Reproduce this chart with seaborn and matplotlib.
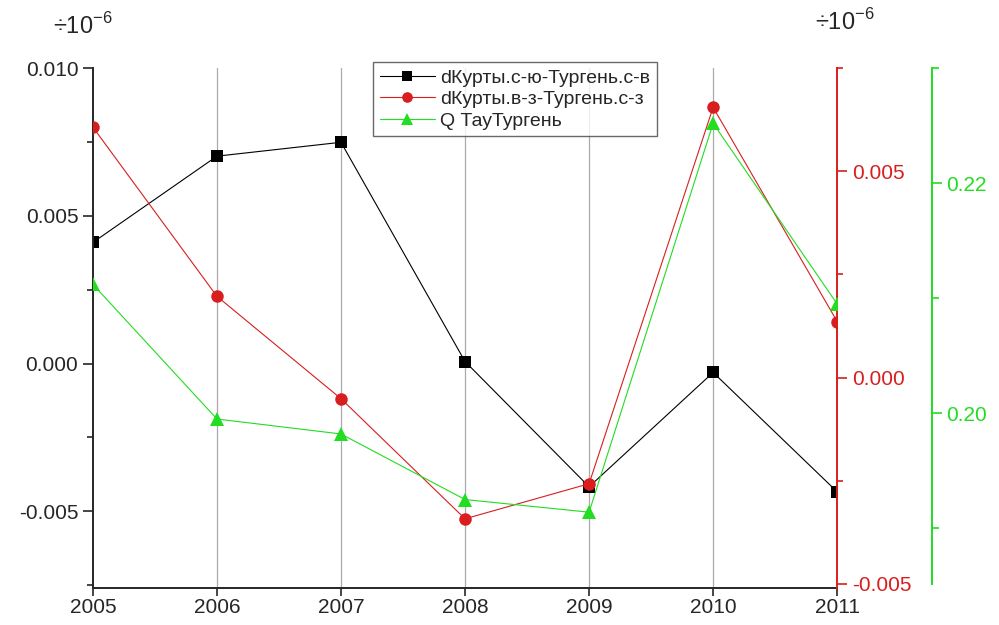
import matplotlib
matplotlib.use("Agg")
import matplotlib.pyplot as plt
from matplotlib.ticker import MultipleLocator, FormatStrFormatter
import pandas as pd
import seaborn as sns

years = [2005, 2006, 2007, 2008, 2009, 2010, 2011]
kurty_sy = [0.0041, 0.00702, 0.00749, 0.00007, -0.00417, -0.0003, -0.00434]
kurty_vz = [0.00607, 0.00197, -0.00051, -0.00342, -0.00257, 0.00655, 0.00136]
tau_turgen = [0.2112, 0.1995, 0.1982, 0.1925, 0.1914, 0.2252, 0.2095]

names = ["dКурты.с-ю-Тургень.с-в", "dКурты.в-з-Тургень.с-з", "Q ТауТургень"]

RED = "#d81e1e"
GREEN = "#22dd22"
FS = 15

sns.set_style("white")
plt.rcParams["font.family"] = ["Liberation Sans", "DejaVu Sans"]
plt.rcParams["axes.linewidth"] = 1.4
plt.rcParams["mathtext.fontset"] = "custom"
plt.rcParams["mathtext.rm"] = "Liberation Sans"

fig = plt.figure(figsize=(9.99, 6.25), dpi=100)
ax = fig.add_axes([0.093, 0.059, 0.745, 0.832])

df = pd.DataFrame({"year": years, "a": kurty_sy, "b": kurty_vz, "q": tau_turgen})

# vertical grid at the inner years
for yr in years[1:-1]:
    ax.axvline(yr, color="#aaaaaa", lw=0.9, zorder=0)

sns.lineplot(data=df, x="year", y="a", ax=ax, color="black", lw=0.8,
             marker="s", markersize=8, markeredgewidth=0, label=names[0], legend=False)
ax.set_xlim(2005, 2011)
ax.set_ylim(-0.0076, 0.010)

ax2 = ax.twinx()
sns.lineplot(data=df, x="year", y="b", ax=ax2, color=RED, lw=0.8,
             marker="o", markersize=9, markeredgewidth=0, label=names[1], legend=False)
ax2.set_ylim(-0.0051, 0.0075)

ax3 = ax.twinx()
sns.lineplot(data=df, x="year", y="q", ax=ax3, color=GREEN, lw=0.8,
             marker="^", markersize=10, markeredgewidth=0, label=names[2], legend=False)
ax3.set_ylim(0.1848, 0.230)
ax3.spines["right"].set_position(("axes", 1.127))
ax3.spines["right"].set_bounds(0.1852, 0.230)

for a in (ax, ax2, ax3):
    a.set_xlabel("")
    a.set_ylabel("")
    a.spines["top"].set_visible(False)
ax.spines["right"].set_visible(False)
ax2.spines["left"].set_visible(False)
ax3.spines["left"].set_visible(False)
ax3.spines["bottom"].set_visible(False)
ax2.spines["bottom"].set_visible(False)

ax.set_xticks(years)
ax.tick_params(axis="x", direction="out", length=6, width=1.2, labelsize=FS, pad=1, bottom=True)
ax.yaxis.set_major_locator(MultipleLocator(0.005))
ax.yaxis.set_minor_locator(MultipleLocator(0.0025))
ax.yaxis.set_major_formatter(FormatStrFormatter("%.3f"))
ax.tick_params(axis="y", which="major", direction="out", length=7, width=1.2, labelsize=FS, left=True)
ax.tick_params(axis="y", which="minor", direction="out", length=4, width=1.2, left=True)

ax2.spines["right"].set_color(RED)
ax2.yaxis.set_major_locator(MultipleLocator(0.005))
ax2.yaxis.set_minor_locator(MultipleLocator(0.0025))
ax2.yaxis.set_major_formatter(FormatStrFormatter("%.3f"))
ax2.tick_params(axis="y", which="major", direction="out", length=7, width=1.2, labelsize=FS,
                colors=RED, right=True)
ax2.tick_params(axis="y", which="minor", direction="out", length=4, width=1.2, color=RED, right=True)

ax3.spines["right"].set_color(GREEN)
ax3.yaxis.set_major_locator(MultipleLocator(0.02))
ax3.yaxis.set_minor_locator(MultipleLocator(0.01))
ax3.yaxis.set_major_formatter(FormatStrFormatter("%.2f"))
ax3.tick_params(axis="y", which="major", direction="out", length=7, width=1.2, labelsize=FS,
                colors=GREEN, right=True)
ax3.tick_params(axis="y", which="minor", direction="out", length=5, width=1.2, color=GREEN, right=True)

fig.text(0.053, 0.958, "÷10$^{\\mathrm{-6}}$", fontsize=17, va="center")
fig.text(0.816, 0.965, "÷10$^{\\mathrm{-6}}$", fontsize=17, va="center")

handles = []
labels = []
for a in (ax, ax2, ax3):
    h, l = a.get_legend_handles_labels()
    handles += h
    labels += l
leg = fig.legend(handles, labels, loc="upper left", bbox_to_anchor=(0.364, 0.916),
                 fontsize=14, frameon=True, fancybox=False, edgecolor="#444444",
                 handlelength=2.8, handletextpad=0.3, borderpad=0.35, labelspacing=0.2,
                 markerscale=0.85)
leg.get_frame().set_linewidth(1.0)

fig.savefig("out.png", dpi=100)
